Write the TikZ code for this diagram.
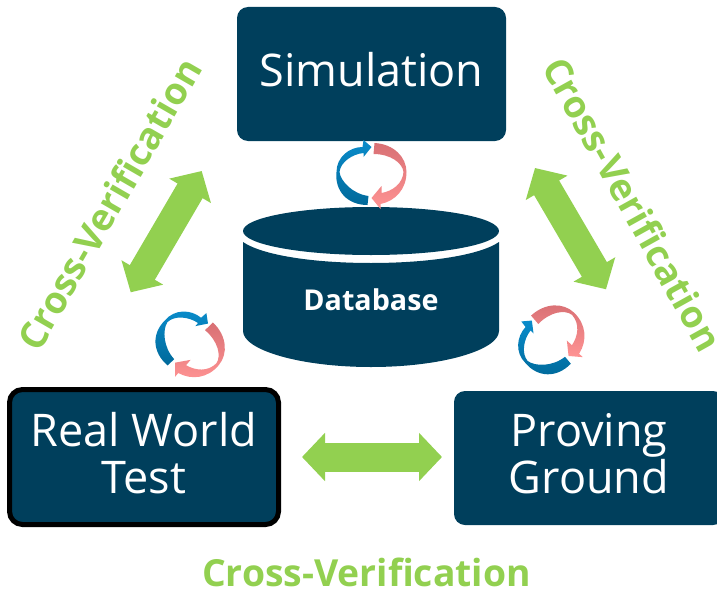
\documentclass[tikz,border=0pt]{standalone}
\usepackage{fontspec}
\setmainfont{Open Sans}
\usetikzlibrary{arrows.meta}
\definecolor{navy}{HTML}{003F5C}
\definecolor{leaf}{HTML}{92D050}
\definecolor{blueA}{HTML}{0A8CCB}
\definecolor{blueB}{HTML}{00699A}
\definecolor{pinkA}{HTML}{D87074}
\definecolor{pinkB}{HTML}{FF9393}
\tikzset{
 x=1pt,y=-1pt,
 box/.style={fill=navy,rounded corners=11pt,inner sep=0pt},
 boxtext/.style={align=center,text=white,inner sep=0pt,yshift=4pt,font=\fontsize{45}{47}\selectfont},
 both/.style={draw=leaf,line width=29pt,{Triangle[length=23pt,width=47pt]}-{Triangle[length=23pt,width=47pt]}},
 verify/.style={text=leaf,font=\fontsize{37.3}{38}\selectfont\bfseries,inner sep=0pt},
 swirlblue/.style={top color=blueA,bottom color=blueB},
 swirlpink/.style={top color=pinkA,bottom color=pinkB},
}
\newcommand{\swirl}[3]{%
\begin{scope}[shift={(#1,#2)},rotate=#3,x=1pt,y=-1pt]
\path[swirlblue] (-4,30) .. controls (-24,30) and (-37,16) .. (-35,-3) .. controls (-35,-18) and (-22,-28) .. (-9,-28) -- (-8,-35) -- (0,-28) -- (-8,-18) -- (-8,-22) .. controls (-19,-21) and (-31,-13) .. (-32,-3) .. controls (-31,6) and (-19,19) .. (-3,21) -- cycle;
\path[swirlpink] (3,-32) .. controls (22,-31) and (35,-18) .. (35,-3) .. controls (35,14) and (24,26) .. (9,29) -- (9,34) -- (0,23) -- (10,11) -- (10,18) .. controls (21,16) and (31,9) .. (32,-3) .. controls (31,-12) and (19,-21) .. (2,-21) -- cycle;
\end{scope}}
\begin{document}
\begin{tikzpicture}
\useasboundingbox (0,0) rectangle (717,594);
\node[box,minimum width=269pt,minimum height=134pt] (sim) at (371.5,74) {};
\node[boxtext] (simt) at (sim) {Simulation};
\node[box,minimum width=269pt,minimum height=135pt,draw=black,line width=5pt,rounded corners=13pt] (real) at (144,457) {};
\node[boxtext] (realt) at (real) {Real World\\Test};
\node[box,minimum width=270pt,minimum height=134pt] (pg) at (589,458) {};
\node[boxtext] (pgt) at (pg) {Proving\\Ground};
% database
\fill[navy] (243,242) -- (243,331) .. controls (243,350) and (300,367) .. (371,367) .. controls (442,367) and (499,350) .. (499,331) -- (499,242) .. controls (480,255) and (430,263) .. (371,263) .. controls (312,263) and (262,255) .. (243,242) -- cycle;
\fill[navy] (371,231) ellipse [x radius=128pt,y radius=24pt];
\node[text=white,font=\fontsize{28.7}{30}\selectfont\bfseries,inner sep=0pt] (db) at (371,300) {Database};
% swirls
\swirl{371.5}{175}{0}
\swirl{190}{345}{-40}
\swirl{552}{340}{46}
% green connectors
\coordinate (la) at (201.7,171);
\coordinate (lb) at (130.7,292.3);
\coordinate (ra) at (535,168);
\coordinate (rb) at (606,289.3);
\coordinate (ba) at (302,457);
\coordinate (bb) at (442,457);
\draw[both] (la) -- (lb);
\draw[both] (ra) -- (rb);
\draw[both] (ba) -- (bb);
% labels
\node[verify,rotate=60] (vl) at (109,204) {Cross-Verification};
\node[verify,rotate=-61] (vr) at (633,204) {Cross-Verification};
\node[verify] (vb) at (366.5,572) {Cross-Verification};
\end{tikzpicture}
\end{document}
